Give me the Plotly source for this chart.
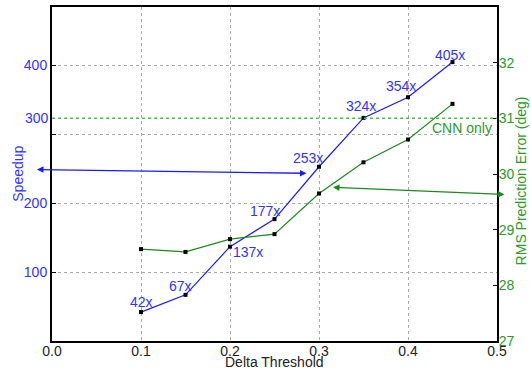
import plotly.graph_objects as go

# data
thresholds = [0.10, 0.15, 0.20, 0.25, 0.30, 0.35, 0.40, 0.45]
speedup = [42, 67, 137, 177, 253, 324, 354, 405]
speedup_labels = ["42x", "67x", "137x", "177x", "253x", "324x", "354x", "405x"]
rms_error = [28.65, 28.60, 28.83, 28.92, 29.65, 30.21, 30.62, 31.26]
cnn_only_error = 31.0
x_ticks = [0.0, 0.1, 0.2, 0.3, 0.4, 0.5]
left_ticks = [100, 200, 300, 400]
right_ticks = [27, 28, 29, 30, 31, 32, 33]

# label offsets (pixels)
label_offsets = [(0, 10), (-5, 9), (18, -5), (-10, 8), (-11, 9), (-3, 12), (-7, 11), (-3, 7)]

BLUE = "#1a1aff"
BLUE_TXT = "#3333ff"
GREEN = "#1a8a1a"
GREEN_TXT = "#2a9a2a"
GREEN_DOT = "#55bb55"
FONT = "Liberation Sans, Arial, sans-serif"

fig = go.Figure()
fig.add_trace(go.Scatter(
    x=thresholds, y=speedup, mode="lines+markers",
    line=dict(color=BLUE, width=1.2),
    marker=dict(symbol="square", size=4, color="black"),
    yaxis="y", showlegend=False))
fig.add_trace(go.Scatter(
    x=thresholds, y=rms_error, mode="lines+markers",
    line=dict(color=GREEN, width=1.2),
    marker=dict(symbol="square", size=4, color="black"),
    yaxis="y2", showlegend=False))

annotations = []
for xv, yv, lab, (dx, dy) in zip(thresholds, speedup, speedup_labels, label_offsets):
    annotations.append(dict(x=xv, y=yv, xref="x", yref="y", text=lab, showarrow=False,
                            xshift=dx, yshift=dy, font=dict(color=BLUE_TXT, size=14, family=FONT)))

# "300" tick label drawn at its displaced position
annotations.append(dict(x=0, xref="paper", y=324, yref="y", text="300", showarrow=False,
                        xanchor="right", xshift=-1, font=dict(color=BLUE_TXT, size=14, family=FONT)))

# CNN only label
annotations.append(dict(x=0.4965, xref="x", y=30.82, yref="y2", text="CNN only", showarrow=False,
                        xanchor="right", font=dict(color=GREEN_TXT, size=14, family=FONT)))

# arrows
annotations.append(dict(x=-0.0169, y=249, xref="x", yref="y", ax=0.2876, ay=243.5, axref="x", ayref="y",
                        text="", showarrow=True, arrowhead=2, startarrowhead=2, arrowside="end+start",
                        arrowsize=1, startarrowsize=1, arrowwidth=1.3, arrowcolor=BLUE))
annotations.append(dict(x=0.3157, y=29.76, xref="x", yref="y2", ax=0.5101, ay=29.63, axref="x", ayref="y2",
                        text="", showarrow=True, arrowhead=2, startarrowhead=2, arrowside="end+start",
                        arrowsize=1, startarrowsize=1, arrowwidth=1.3, arrowcolor=GREEN))

# axis titles
annotations.append(dict(x=-0.077, xref="paper", y=0.5, yref="paper", text="Speedup", textangle=-90,
                        xanchor="center", yanchor="middle",
                        showarrow=False, font=dict(color=BLUE_TXT, size=14, family=FONT)))
annotations.append(dict(x=1.054, xref="paper", y=0.478, yref="paper", text="RMS Prediction Error (deg)",
                        xanchor="center", yanchor="middle",
                        textangle=-90, showarrow=False, font=dict(color=GREEN_TXT, size=14, family=FONT)))
annotations.append(dict(x=0.5, xref="paper", y=-0.063, yref="paper", text="Delta Threshold",
                        xanchor="center", showarrow=False, yanchor="middle",
                        font=dict(color="#222222", size=14, family=FONT)))

fig.add_shape(type="line", xref="x", yref="y2", x0=0, x1=0.5, y0=cnn_only_error, y1=cnn_only_error,
              line=dict(color=GREEN_DOT, width=1.5, dash="dot"))

fig.update_layout(
    width=531, height=373,
    margin=dict(l=52, r=34, t=7, b=32, autoexpand=False),
    paper_bgcolor="white", plot_bgcolor="white",
    font=dict(family=FONT, size=14),
    annotations=annotations,
    xaxis=dict(range=[0, 0.5], tickvals=x_ticks, ticktext=[f"{v:.1f}" for v in x_ticks],
               tickfont=dict(color="#222222", size=14), automargin=False,
               showgrid=True, gridcolor="#aaaaaa", griddash="dot", gridwidth=1,
               showline=True, linecolor="black", linewidth=2, mirror=True,
               ticks="", zeroline=False),
    yaxis=dict(range=[0, 485], tickvals=left_ticks,
               ticktext=["100", "200", "", "400"], automargin=False,
               tickfont=dict(color=BLUE_TXT, size=14),
               showgrid=True, gridcolor="#aaaaaa", griddash="dot", gridwidth=1,
               showline=True, linecolor="black", linewidth=2,
               ticks="inside", ticklen=4, tickcolor="black", zeroline=False),
    yaxis2=dict(range=[27, 33], tickvals=right_ticks, overlaying="y", side="right",
                tickfont=dict(color=GREEN_TXT, size=14), automargin=False,
                showgrid=False, showline=True, linecolor="black", linewidth=2,
                ticks="inside", ticklen=4, tickcolor="black", zeroline=False),
)

try:
    fig.update_xaxes(ticklabelstandoff=-4)
    fig.update_layout(yaxis2=dict(ticklabelstandoff=-3))
except Exception:
    pass

fig.write_html("out.html")
